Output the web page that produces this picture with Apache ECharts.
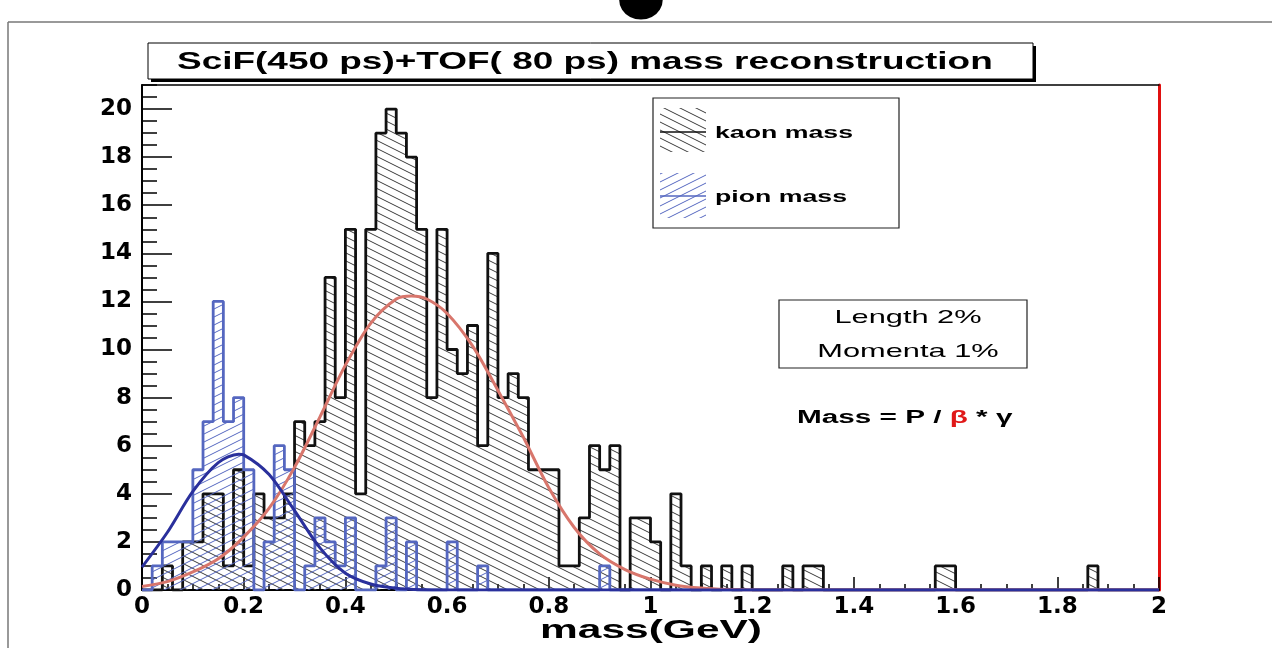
<!DOCTYPE html>
<html>
<head>
<meta charset="utf-8">
<script src="https://cdn.jsdelivr.net/npm/echarts@6/dist/echarts.min.js"></script>
<style>
  html, body { margin: 0; padding: 0; background: #fff; }
  #main { width: 1272px; height: 648px; }
</style>
</head>
<body>
<div id="main"></div>
<script>
// histogram: 100 bins of 0.02 GeV from 0 to 2
var binWidth = 0.02;
var kaonCounts = [
  0, 0, 1, 0, 2, 2, 4, 4, 1, 5,
  1, 4, 3, 3, 4, 7, 6, 7, 13, 8,
  15, 4, 15, 19, 20, 19, 18, 15, 8, 15,
  10, 9, 11, 6, 14, 8, 9, 8, 5, 5,
  5, 1, 1, 3, 6, 5, 6, 0, 3, 3,
  2, 0, 4, 1, 0, 1, 0, 1, 0, 1,
  0, 0, 0, 1, 0, 1, 1, 0, 0, 0,
  0, 0, 0, 0, 0, 0, 0, 0, 1, 1,
  0, 0, 0, 0, 0, 0, 0, 0, 0, 0,
  0, 0, 0, 1, 0, 0, 0, 0, 0, 0
];
var pionCounts = [
  0, 1, 2, 2, 2, 5, 7, 12, 7, 8,
  5, 0, 2, 6, 5, 0, 1, 3, 2, 1,
  3, 0, 0, 1, 3, 0, 2, 0, 0, 0,
  2, 0, 0, 1, 0, 0, 0, 0, 0, 0,
  0, 0, 0, 0, 0, 1, 0, 0, 0, 0,
  0, 0, 0, 0, 0, 0, 0, 0, 0, 0,
  0, 0, 0, 0, 0, 0, 0, 0, 0, 0,
  0, 0, 0, 0, 0, 0, 0, 0, 0, 0,
  0, 0, 0, 0, 0, 0, 0, 0, 0, 0,
  0, 0, 0, 0, 0, 0, 0, 0, 0, 0
];
// gaussian fits
var kaonFitX = [0, 0.05, 0.1, 0.15, 0.2, 0.25, 0.3, 0.35, 0.4, 0.45, 0.5, 0.53, 0.56, 0.6, 0.65, 0.7, 0.75, 0.8, 0.85, 0.9, 0.95, 1.0, 1.05, 1.1, 1.15, 1.2, 1.4, 2.0];
var kaonFitY = [0.15, 0.35, 0.75, 1.3, 2.2, 3.4, 5.1, 7.2, 9.35, 11.1, 12.1, 12.23, 12.1, 11.5, 10.15, 8.3, 6.35, 4.25, 2.6, 1.5, 0.85, 0.45, 0.2, 0.08, 0.02, 0, 0, 0];
var pionFitX = [0, 0.05, 0.1, 0.15, 0.19, 0.2, 0.25, 0.3, 0.35, 0.4, 0.45, 0.5, 0.55, 0.6, 0.8, 2.0];
var pionFitY = [0.95, 2.4, 4.1, 5.3, 5.65, 5.62, 4.8, 3.3, 1.75, 0.7, 0.25, 0.07, 0.01, 0, 0, 0];

var legendNames = ['kaon mass', 'pion mass'];
var titleText = 'SciF(450 ps)+TOF( 80 ps) mass reconstruction';
var noteLines = ['Length 2%', 'Momenta 1%'];

var kaonColor = '#111111';
var pionColor = '#5567c0';
var kaonFitColor = '#d8766c';
var pionFitColor = '#2a309c';

function hatch(color, dir) {
  var c = document.createElement('canvas');
  c.width = 16; c.height = 8;
  var g = c.getContext('2d');
  g.strokeStyle = color;
  g.lineWidth = 1;
  [-8, 0, 8].forEach(function (dy) {
    g.beginPath();
    if (dir > 0) { g.moveTo(0, dy); g.lineTo(16, dy + 8); }
    else { g.moveTo(0, dy + 8); g.lineTo(16, dy); }
    g.stroke();
  });
  return { image: c, repeat: 'repeat' };
}

function steps(counts) {
  var pts = [];
  for (var i = 0; i < counts.length; i++) {
    pts.push([+(i * binWidth).toFixed(2), counts[i]]);
  }
  pts.push([2, counts[counts.length - 1]]);
  pts.push([2, 0]);
  return pts;
}
function zip(xs, ys) {
  return xs.map(function (x, i) { return [x, ys[i]]; });
}

var kaonHatch = hatch('#3a3a3a', 1);
var pionHatch = hatch(pionColor, -1);

var chartDom = document.getElementById('main');
var myChart = echarts.init(chartDom);
var gridBox = { left: 142, right: 113, top: 85, bottom: 58 };
var labelFont = { color: '#000', fontFamily: 'DejaVu Sans', fontWeight: 'bold', fontSize: 23 };

function txt(x, y, text, size, weight, align, sx, extra) {
  var st = {
    text: text, fill: '#000', fontFamily: 'Liberation Sans', fontSize: size, fontWeight: weight,
    align: align, textAlign: align, verticalAlign: 'middle', textVerticalAlign: 'middle'
  };
  if (extra) { for (var k in extra) st[k] = extra[k]; }
  return { type: 'text', x: x, y: y, scaleX: sx, silent: true, z: 20, style: st };
}

var option = {
  animation: false,
  grid: gridBox,
  xAxis: [{
    type: 'value', min: 0, max: 2, interval: 0.2, position: 'bottom',
    axisLine: { show: true, onZero: false, lineStyle: { color: '#000', width: 2 } },
    axisTick: { inside: true, length: 13, lineStyle: { color: '#000', width: 1.5 } },
    axisLabel: Object.assign({ margin: 6, formatter: function (v) { return String(Math.round(v * 10) / 10); } }, labelFont),
    splitLine: { show: false }
  }, {
    type: 'value', min: 0, max: 2, interval: 0.05, position: 'bottom',
    axisLine: { show: false },
    axisTick: { inside: true, length: 6, lineStyle: { color: '#000', width: 1.5 } },
    axisLabel: { show: false }, splitLine: { show: false }
  }, {
    type: 'value', min: 0, max: 2, position: 'top',
    axisLine: { show: true, onZero: false, lineStyle: { color: '#000', width: 1.5 } },
    axisTick: { show: false }, axisLabel: { show: false }, splitLine: { show: false }
  }],
  yAxis: [{
    type: 'value', min: 0, max: 21, interval: 2, position: 'left',
    axisLine: { show: true, onZero: false, lineStyle: { color: '#000', width: 2 } },
    axisTick: { inside: true, length: 30, lineStyle: { color: '#000', width: 1.5 } },
    axisLabel: Object.assign({ margin: 10, showMaxLabel: false }, labelFont),
    splitLine: { show: false }
  }, {
    type: 'value', min: 0, max: 21, interval: 0.5, position: 'left',
    axisLine: { show: false },
    axisTick: { inside: true, length: 15, lineStyle: { color: '#000', width: 1.5 } },
    axisLabel: { show: false }, splitLine: { show: false }
  }, {
    type: 'value', min: 0, max: 21, position: 'right',
    axisLine: { show: true, onZero: false, lineStyle: { color: '#e01010', width: 3 } },
    axisTick: { show: false }, axisLabel: { show: false }, splitLine: { show: false }
  }],
  series: [{
    name: legendNames[0], type: 'line', step: 'end', symbol: 'none', silent: true,
    data: steps(kaonCounts), z: 2,
    lineStyle: { color: kaonColor, width: 2.8 },
    areaStyle: { color: kaonHatch, opacity: 1 }
  }, {
    name: legendNames[1], type: 'line', step: 'end', symbol: 'none', silent: true,
    data: steps(pionCounts), z: 3,
    lineStyle: { color: pionColor, width: 2.8 },
    areaStyle: { color: pionHatch, opacity: 1 }
  }, {
    type: 'line', smooth: 0.3, symbol: 'none', silent: true,
    data: zip(kaonFitX, kaonFitY), z: 4,
    lineStyle: { color: kaonFitColor, width: 3 }
  }, {
    type: 'line', smooth: 0.3, symbol: 'none', silent: true,
    data: zip(pionFitX, pionFitY), z: 5,
    lineStyle: { color: pionFitColor, width: 3 }
  }],
  graphic: [
    // slide remnants
    { type: 'line', silent: true, shape: { x1: 8, y1: 22, x2: 1272, y2: 22 }, style: { stroke: '#777', lineWidth: 1.5 } },
    { type: 'line', silent: true, shape: { x1: 8, y1: 22, x2: 8, y2: 648 }, style: { stroke: '#777', lineWidth: 1.5 } },
    {
      type: 'text', x: 641, y: -1, scaleX: 1.1, silent: true, z: 20,
      style: { text: '●', fill: '#000', fontFamily: 'DejaVu Sans', fontSize: 52, align: 'center', textAlign: 'center', verticalAlign: 'middle', textVerticalAlign: 'middle' }
    },
    // title box with shadow
    { type: 'rect', silent: true, shape: { x: 151, y: 46, width: 885, height: 36 }, style: { fill: '#000' }, z: 18 },
    { type: 'rect', silent: true, shape: { x: 148, y: 43, width: 885, height: 36 }, style: { fill: '#fff', stroke: '#000', lineWidth: 1 }, z: 19 },
    txt(177, 62, titleText, 24, 'bold', 'left', 1.54),
    // legend
    { type: 'rect', silent: true, shape: { x: 653, y: 98, width: 246, height: 130 }, style: { fill: '#fff', stroke: '#222', lineWidth: 1.2 }, z: 18 },
    { type: 'rect', silent: true, shape: { x: 660, y: 108, width: 46, height: 44 }, style: { fill: kaonHatch }, z: 19 },
    { type: 'line', silent: true, shape: { x1: 660, y1: 132, x2: 706, y2: 132 }, style: { stroke: kaonColor, lineWidth: 1.5 }, z: 20 },
    txt(715, 133, legendNames[0], 17, 'bold', 'left', 1.57),
    { type: 'rect', silent: true, shape: { x: 660, y: 173, width: 46, height: 45 }, style: { fill: pionHatch }, z: 19 },
    { type: 'line', silent: true, shape: { x1: 660, y1: 196, x2: 706, y2: 196 }, style: { stroke: pionColor, lineWidth: 1.5 }, z: 20 },
    txt(715, 197, legendNames[1], 17, 'bold', 'left', 1.57),
    // resolution box
    { type: 'rect', silent: true, shape: { x: 779, y: 300, width: 248, height: 68 }, style: { fill: '#fff', stroke: '#222', lineWidth: 1.2 }, z: 18 },
    txt(908, 318, noteLines[0], 19, 'normal', 'center', 1.62),
    txt(908, 352, noteLines[1], 19, 'normal', 'center', 1.62),
    txt(797, 418, '{a|Mass = P / }{r|β}{a| * γ}', 18, 'bold', 'left', 1.65, {
      rich: {
        a: { fill: '#000', fontFamily: 'Liberation Sans', fontSize: 18, fontWeight: 'bold' },
        r: { fill: '#e01818', fontFamily: 'Liberation Sans', fontSize: 18, fontWeight: 'bold' }
      }
    }),
    // axis title
    txt(651, 631, 'mass(GeV)', 25, 'bold', 'center', 1.7)
  ]
};

myChart.setOption(option);
</script>
</body>
</html>
